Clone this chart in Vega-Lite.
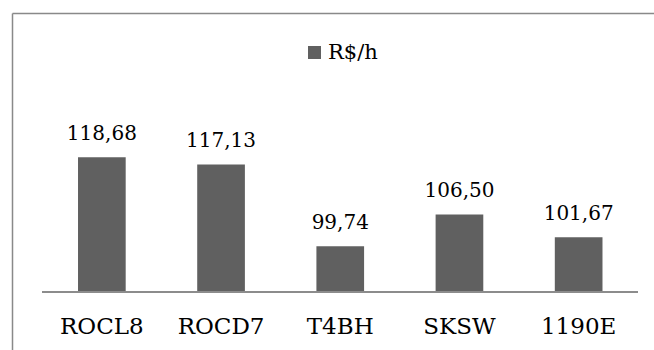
{
  "$schema": "https://vega.github.io/schema/vega-lite/v6.json",
  "width": 642,
  "height": 337,
  "autosize": "none",
  "padding": {"left": 12, "top": 13, "right": 0, "bottom": 0},
  "background": "white",
  "config": {
    "view": {"stroke": null},
    "font": "DejaVu Serif",
    "locale": {"number": {"decimal": ",", "thousands": ".", "grouping": [3], "currency": ["R$", ""]}}
  },
  "data": {
    "values": [
      {"maquina": "ROCL8", "valor": 118.68},
      {"maquina": "ROCD7", "valor": 117.13},
      {"maquina": "T4BH", "valor": 99.74},
      {"maquina": "SKSW", "valor": 106.50},
      {"maquina": "1190E", "valor": 101.67}
    ]
  },
  "layer": [
    {
      "mark": {"type": "bar", "color": "#606060"},
      "encoding": {
        "x": {
          "field": "maquina", "type": "nominal", "sort": null,
          "scale": {"paddingInner": 0.6, "paddingOuter": 0.493, "align": 0.5617},
          "axis": {"orient": "top", "title": null, "labels": false, "ticks": false, "grid": false, "domainColor": "#898989", "domainWidth": 1.5}
        },
        "y": {
          "field": "valor", "type": "quantitative",
          "scale": {"domain": [77.66, 149.36], "nice": false, "zero": false},
          "axis": {"orient": "left", "title": null, "labels": false, "ticks": false, "grid": false, "domainColor": "#898989", "domainWidth": 1.5}
        },
        "y2": {"datum": 90},
        "color": {
          "datum": "R$/h",
          "scale": {"range": ["#606060"]},
          "legend": {
            "orient": "none", "legendX": 292, "legendY": 29, "title": null,
            "symbolType": "square", "symbolSize": 169, "symbolStrokeWidth": 0,
            "labelFontSize": 21, "labelFont": "DejaVu Serif", "labelColor": "#000000",
            "labelOffset": 3, "padding": 0
          }
        }
      }
    },
    {
      "mark": {"type": "rule", "color": "#8c8c8c", "strokeWidth": 1.5},
      "encoding": {
        "x": {"datum": "ROCL8", "type": "nominal", "bandPosition": -0.755},
        "x2": {"datum": "1190E", "bandPosition": 1.745},
        "y": {"datum": 90, "type": "quantitative"}
      }
    },
    {
      "mark": {"type": "text", "baseline": "alphabetic", "dy": -17, "fontSize": 20, "font": "DejaVu Serif", "color": "#000000"},
      "encoding": {
        "x": {"field": "maquina", "type": "nominal", "sort": null, "bandPosition": 0.5},
        "y": {"field": "valor", "type": "quantitative"},
        "text": {"field": "valor", "type": "quantitative", "format": ".2f"}
      }
    },
    {
      "mark": {"type": "text", "baseline": "alphabetic", "dy": 42, "fontSize": 23, "font": "DejaVu Serif", "color": "#000000"},
      "encoding": {
        "x": {"field": "maquina", "type": "nominal", "sort": null, "bandPosition": 0.5},
        "y": {"datum": 90, "type": "quantitative"},
        "text": {"field": "maquina", "type": "nominal"}
      }
    }
  ]
}
